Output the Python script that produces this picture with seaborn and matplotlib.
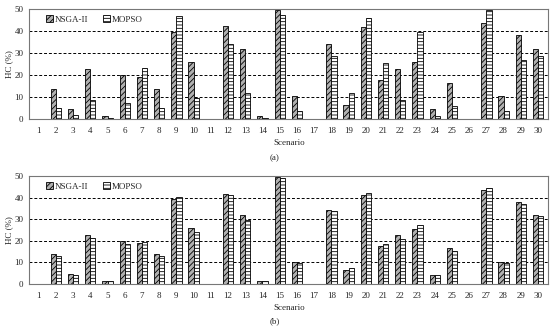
import numpy as np
import pandas as pd
import matplotlib
matplotlib.use("Agg")
import matplotlib.pyplot as plt
import seaborn as sns

# dados
cenarios = [str(i) for i in range(1, 31)]
metodos = ["NSGA-II", "MOPSO"]

nsga_a = [0, 13.6, 4.4, 22.7, 1.5, 20.0, 19.0, 13.6, 39.7, 26.0,
          0, 42.1, 32.0, 1.4, 49.8, 10.5, 0, 34.2, 6.5, 41.7,
          17.9, 22.7, 25.8, 4.4, 16.5, 0, 43.6, 10.5, 38.2, 32.0]
mopso_a = [0, 5.2, 1.7, 8.5, 0.5, 7.4, 23.0, 5.2, 46.8, 9.7,
           0, 34.2, 12.0, 0.5, 47.4, 3.8, 0, 28.8, 12.0, 46.1,
           25.5, 8.5, 39.5, 1.5, 6.0, 0, 49.5, 3.8, 27.0, 28.8]

nsga_b = [0, 13.7, 4.5, 22.7, 1.4, 19.8, 18.8, 13.7, 39.3, 25.9,
          0, 41.9, 31.8, 1.4, 49.4, 10.4, 0, 34.3, 6.7, 41.3,
          17.8, 22.7, 25.7, 4.4, 16.5, 0, 43.5, 10.4, 37.9, 31.8]
mopso_b = [0, 12.8, 4.0, 21.2, 1.2, 18.4, 19.5, 12.8, 40.5, 24.1,
           0, 41.3, 29.8, 1.2, 49.2, 9.7, 0, 33.8, 7.3, 42.1,
           18.7, 21.0, 27.4, 4.0, 15.3, 0, 44.4, 9.7, 36.9, 31.6]

sns.set_style("white")
plt.rcParams['font.family'] = ['Liberation Serif', 'DejaVu Serif']
plt.rcParams['hatch.linewidth'] = 0.6

fig = plt.figure(figsize=(5.5, 3.31), dpi=100)
ax_a = fig.add_axes([0.053, 0.6405, 0.944, 0.332])
ax_b = fig.add_axes([0.053, 0.142, 0.944, 0.326])

paineis = [(ax_a, nsga_a, mopso_a, "(a)", 0.51), (ax_b, nsga_b, mopso_b, "(b)", 0.018)]

for ax, v1, v2, letra, ypos in paineis:
    df = pd.DataFrame({
        "Scenario": cenarios * 2,
        "HC": v1 + v2,
        "Metodo": [metodos[0]] * 30 + [metodos[1]] * 30,
    })
    sns.barplot(data=df, x="Scenario", y="HC", hue="Metodo", ax=ax,
                width=0.6, legend=False, order=cenarios, hue_order=metodos)
    # hachuras como no original
    estilos = [("#b0b0b0", "//////"), ("white", "-----")]
    for cont, (cor, hatch) in zip(ax.containers, estilos):
        for p in cont:
            p.set_facecolor(cor)
            p.set_hatch(hatch)
            p.set_edgecolor("black")
            p.set_linewidth(0.6)
    ax.set_ylim(0, 50)
    ax.set_xlim(-0.55, 29.6)
    ax.set_yticks([0, 10, 20, 30, 40, 50])
    ax.tick_params(axis="x", labelsize=6.5, length=0, pad=6)
    ax.tick_params(axis="y", labelsize=6.5, length=0, pad=4)
    ax.set_ylabel("HC (%)", fontsize=6.5, labelpad=1)
    ax.set_xlabel("Scenario", fontsize=6.5, labelpad=3)
    for y in [10, 20, 30, 40]:
        ax.axhline(y, color="black", linestyle=(0, (3, 2)), linewidth=0.7, zorder=0)
    for s in ax.spines.values():
        s.set_color("#777777")
        s.set_linewidth(0.8)
    ax.legend(ax.containers, metodos, loc="upper left", frameon=False, ncol=2,
              fontsize=6.5, handlelength=0.8, handleheight=0.8, handletextpad=0.2,
              columnspacing=1.6, borderaxespad=0.3, bbox_to_anchor=(0.02, 1.0))
    fig.text(0.5, ypos, letra, ha="center", va="bottom", fontsize=6.5)

fig.savefig("out.png", dpi=100)
